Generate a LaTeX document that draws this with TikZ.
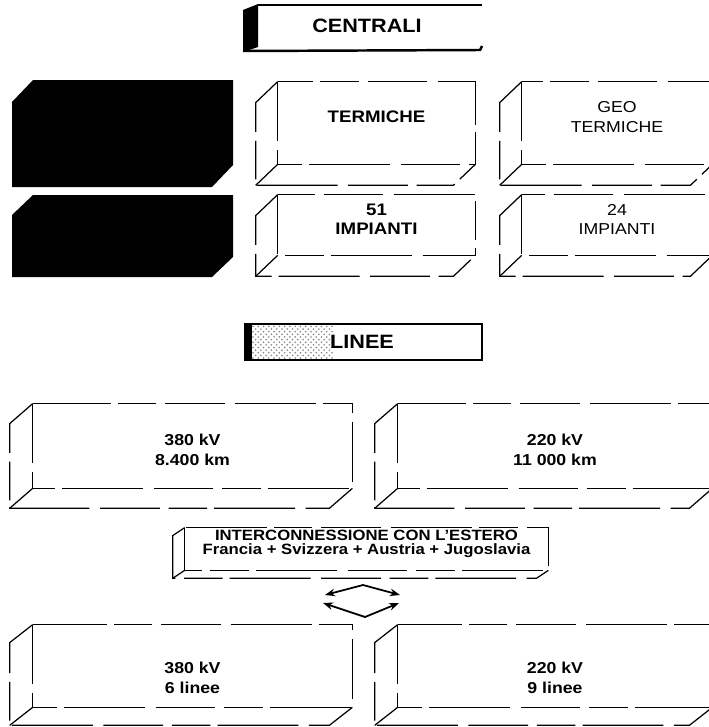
\documentclass[tikz,border=0pt]{standalone}
\usepackage{fontspec}
\setmainfont{Liberation Sans}[FakeStretch=1.12]
\usetikzlibrary{arrows.meta,fit,calc,patterns}

\newcommand{\tray}[3]{%
  \draw[rim] (#1.north west) rectangle (#1.south east);
  \draw[rim] (#1.north west) -- ++(#2,#3) |- ($(#1.south east)+(#2,#3)$) -- (#1.south east);
  \draw[rim] (#1.south west) -- ++(#2,#3);}

\begin{document}
\begin{tikzpicture}[x=0.02cm, y=-0.02cm,
  >={Stealth[length=2mm]},
  rim/.style={line width=0.7pt, dash pattern=on 34pt off 5pt on 22pt off 4pt on 46pt off 6pt},
  box/.style={inner sep=0pt},
  tray/.style={inner sep=0pt, align=center, font=\fontsize{9.5}{11.3}\selectfont\bfseries},
  lite/.style={inner sep=0pt, align=center, font=\fontsize{9}{11.3}\selectfont},
  line/.style={inner sep=0pt, align=center, font=\fontsize{9}{11.3}\selectfont\bfseries},
  head/.style={font=\fontsize{11}{13}\selectfont\bfseries},
  block/.style={fill=black},
  dbl/.style={<->, line width=1pt}]
  \useasboundingbox (0,0) rectangle (708,727);

  \fill[block] (243,10) -- (258,4) -- (258,47) -- (243,52) -- cycle;
  \draw[line width=0.8pt] (258,5) -- (482,5);
  \draw[line width=1.4pt] (243,51) -- (480,50) -- (482,46);
  \node[head] (centrali) at (367,26) {CENTRALI};

  \fill[block] (12,102) -- (33,80) -- (233,80) -- (233,165) -- (212,187) -- (12,187) -- cycle;
  \fill[block] (12,215) -- (33,195) -- (233,195) -- (233,257) -- (212,277) -- (12,277) -- cycle;

  \node[tray, fit={(278,82) (475,164)}] (termiche) {TERMICHE};
  \node[lite, fit={(522,82) (712,164)}] (geo) {GEO\\TERMICHE};
  \node[tray, fit={(278,195) (475,255)}] (imp51) {51\\IMPIANTI};
  \node[lite, fit={(522,195) (712,255)}] (imp24) {24\\IMPIANTI};
  \tray{termiche}{-22}{21}
  \tray{geo}{-22}{21}
  \tray{imp51}{-22}{21}
  \tray{imp24}{-22}{21}

  \fill[pattern=crosshatch dots, pattern color=gray] (245,324) rectangle (333,360);
  \fill[block] (245,324) rectangle (252,360);
  \draw[line width=0.8pt] (245,324) rectangle (482,360);
  \node[head] (linee) at (362,342) {LINEE};

  \node[box, fit={(33,404) (352,488)}] (kv380) {};
  \node[box, fit={(398,404) (712,488)}] (kv220) {};
  \node[line] (kv380t) at ([yshift=-2pt]kv380.center) {380 kV\\8.400 km};
  \node[line] (kv220t) at ([yshift=-2pt]kv220.center) {220 kV\\11 000 km};
  \tray{kv380}{-23}{20}
  \tray{kv220}{-23}{20}

  \node[inner sep=0pt, align=center, font=\fontsize{8.5}{7.6}\selectfont\bfseries,
    fit={(185,528) (548,570)}] (estero)
    {INTERCONNESSIONE CON L'ESTERO\\Francia + Svizzera + Austria + Jugoslavia};
  \tray{estero}{-12}{8}

  \coordinate (ul) at (325,595);
  \coordinate (ut) at (363,585);
  \coordinate (ur) at (400,595);
  \coordinate (ll) at (323,603);
  \coordinate (lb) at (365,617);
  \coordinate (lr) at (399,603);
  \draw[dbl] (ul) -- (ut) -- (ur);
  \draw[dbl] (ll) -- (lb) -- (lr);

  \node[box, fit={(33,625) (352,707)}] (ln380) {};
  \node[box, fit={(398,625) (712,707)}] (ln220) {};
  \node[line] (ln380t) at ([yshift=-6.5pt]ln380.center) {380 kV\\6 linee};
  \node[line] (ln220t) at ([yshift=-6.5pt]ln220.center) {220 kV\\9 linee};
  \tray{ln380}{-23}{18}
  \tray{ln220}{-23}{18}
\end{tikzpicture}
\end{document}
